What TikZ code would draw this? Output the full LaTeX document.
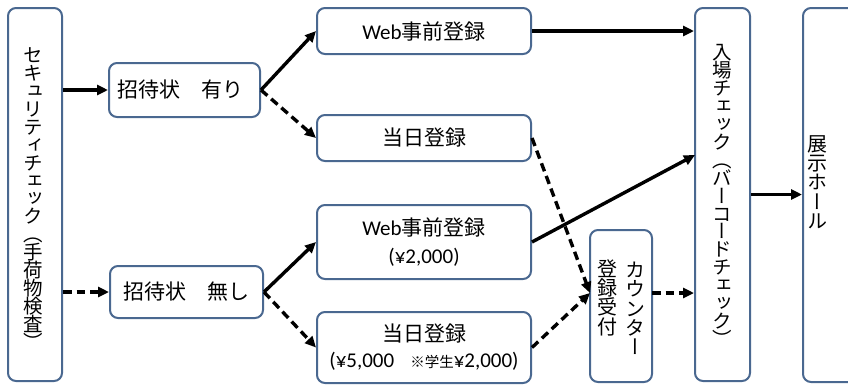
\documentclass[tikz,border=0pt]{standalone}
\usepackage{fontspec}
\setmainfont{Carlito}
\newfontfamily\jp{Noto Sans CJK JP}
\newfontfamily\jpv[RawFeature=+vert]{Noto Sans CJK JP}
\usetikzlibrary{arrows.meta}
\definecolor{bordc}{HTML}{4A6890}
\newcommand\vsetA{\jpv\fontsize{19.5}{17.9}\selectfont\lineskiplimit=-30pt\relax\lineskip=0pt\relax}
\newcommand\vsetB{\jpv\fontsize{20}{19.3}\selectfont\lineskiplimit=-30pt\relax\lineskip=0pt\relax}
\tikzset{
  box/.style={draw=bordc, line width=2pt, rounded corners=8pt, fill=white, inner sep=0pt, align=center, font=\fontsize{21}{28}\selectfont},
  vtext/.style={inner sep=0pt, align=center, font=\vsetA},
  vtextb/.style={inner sep=0pt, align=center, font=\vsetB},
  conn/.style={line width=3.4pt, -{Triangle[length=11pt,width=10pt]}},
  dconn/.style={conn, dash pattern=on 8.5pt off 5pt},
}
\begin{document}
\begin{tikzpicture}[x=1pt,y=-1pt]
\fill[white] (0,0) rectangle (848,386);
\clip (0,0) rectangle (848,386);
\useasboundingbox (0,0) rectangle (848,386);
% boxes
\node[box, minimum width=54pt, minimum height=373pt] (sec) at (35,194.5) {};
\node[vtext] (sectext) at (33.5,198.5) {セ\\キ\\ュ\\リ\\テ\\ィ\\チ\\ェ\\ッ\\ク\\（\\手\\荷\\物\\検\\査\\）};
\node[box, minimum width=151pt, minimum height=54pt] (ari) at (184.5,90) {\hspace*{-8pt}\jp 招待状　有り};
\node[box, minimum width=153pt, minimum height=52pt] (nashi) at (186.5,292) {\jp 招待状　無し};
\node[box, minimum width=214pt, minimum height=46pt] (web1) at (424,31) {Web{\jp 事前登録}};
\node[box, minimum width=214pt, minimum height=46pt] (toj1) at (424,138) {\jp 当日登録};
\node[box, minimum width=214pt, minimum height=74pt] (web2) at (424,242) {Web{\jp 事前登録}\\(¥2,000)};
\node[box, minimum width=214pt, minimum height=71pt] (toj2) at (424,347.5) {{\jp 当日登録}\\[-2pt](¥5,000\hspace{16pt}{\jp\fontsize{14.5}{14}\selectfont ※学生}¥2,000)};
\node[box, minimum width=62pt, minimum height=152pt] (counter) at (621,306) {};
\node[vtextb] (cnt1) at (635.5,308.5) {カ\\ウ\\ン\\タ\\ー};
\node[vtextb] (cnt2) at (607,297.5) {登\\録\\受\\付};
\node[box, minimum width=55pt, minimum height=373pt] (entry) at (722.5,194.5) {};
\node[vtext] (entrytext) at (722.5,195.5) {入\\場\\チ\\ェ\\ッ\\ク\\（\\バ\\ー\\コ\\ー\\ド\\チ\\ェ\\ッ\\ク\\）};
\node[box, minimum width=60pt, minimum height=374pt, anchor=west] (hall) at (802,195) {};
\node[vtextb] (halltext) at (817.5,182) {展\\示\\ホ\\ー\\ル};
% coordinates
\coordinate (e1) at (695,155);
\coordinate (cin) at (590,293);
\coordinate (cout) at (652,293);
% connectors
\draw[conn] (sec.east |- ari.west) -- (ari.west);
\draw[dconn] (sec.east |- nashi.west) -- (nashi.west);
\draw[conn] (ari.east) -- (web1.west);
\draw[dconn] (ari.east) -- (toj1.west);
\draw[conn] (nashi.east) -- (web2.west);
\draw[dconn] (nashi.east) -- (toj2.west);
\draw[conn] (web1.east) -- (entry.west |- web1.east);
\draw[dconn] (toj1.east) -- (cin);
\draw[conn] (web2.east) -- (e1);
\draw[dconn] (toj2.east) -- (cin);
\draw[dconn] (cout) -- (entry.west |- cout);
\draw[conn] (entry.east) -- (hall.west |- entry.east);
\end{tikzpicture}
\end{document}
